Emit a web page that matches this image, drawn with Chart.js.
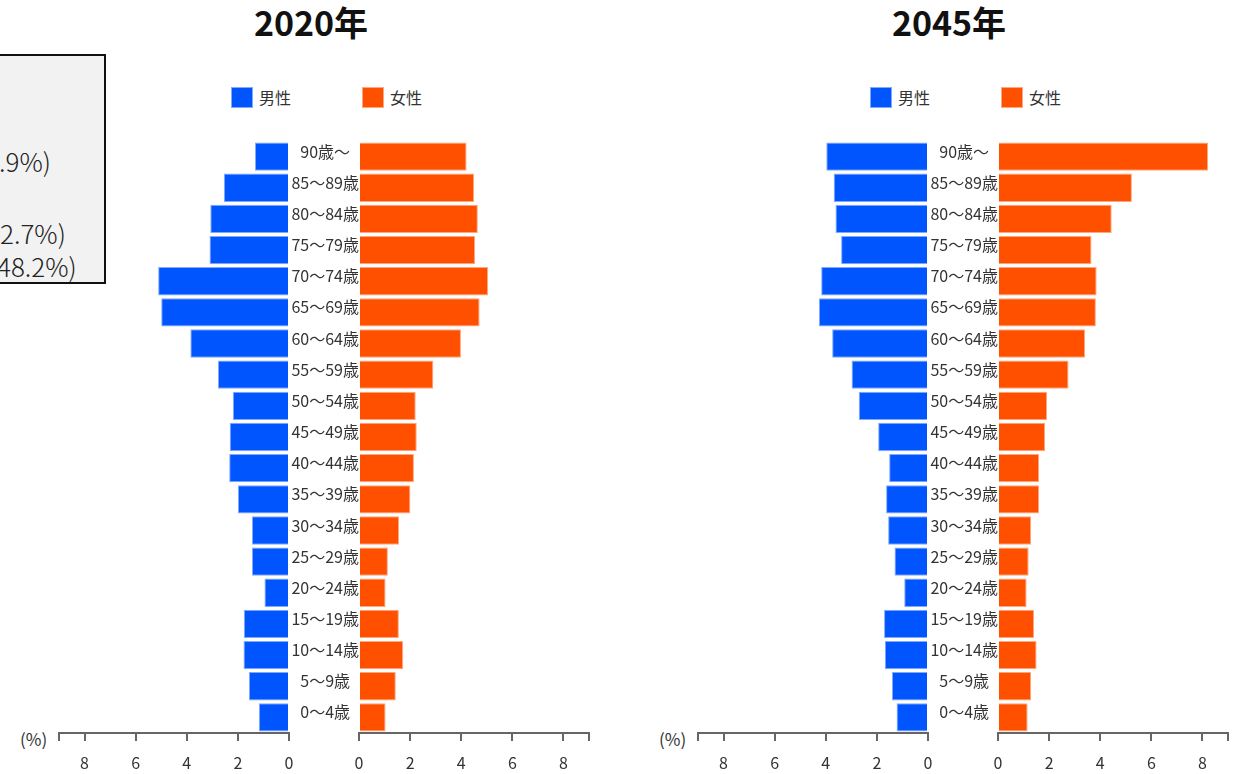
<!DOCTYPE html>
<html lang="ja">
<head>
<meta charset="utf-8">
<title>人口ピラミッド</title>
<script src="https://cdn.jsdelivr.net/npm/chart.js@4.4.1/dist/chart.umd.min.js"></script>
<style>
    body { margin: 0; background: #fff; font-family: 'Noto Sans CJK JP', 'Noto Sans', sans-serif; color: #333; }
    #lienzo { position: relative; width: 1243px; height: 774px; overflow: hidden; }
    canvas { position: absolute; }
    .titulo { position: absolute; top: 5px; width: 300px; text-align: center; font-size: 34px; font-weight: bold; line-height: 1; color: #111; }
    .leyenda { position: absolute; top: 87px; height: 21px; font-size: 16px; line-height: 20px; color: #333; }
    .leyenda span { display: inline-block; width: 22px; height: 21px; vertical-align: top; margin-right: 6px; box-sizing: border-box; }
    .porcentaje { position: absolute; top: 730px; font-size: 17px; line-height: 1; color: #333; }
    #cuadro { position: absolute; left: -20px; top: 54px; width: 126px; height: 230px; box-sizing: border-box; border: 2px solid #111; background: #f2f2f2; }
    .linea { position: absolute; font-size: 26px; font-weight: 300; line-height: 1; white-space: nowrap; color: #222; }
</style>
</head>
<body>
<div id="lienzo">
    <div id="cuadro"></div>
    <div class="linea" style="left:-1px; top:148px;">.9%)</div>
    <div class="linea" style="left:0px; top:220px;">2.7%)</div>
    <div class="linea" style="left:-3px; top:253px;">48.2%)</div>

    <div class="titulo" style="left:161px;">2020年</div>
    <div class="titulo" style="left:799px;">2045年</div>

    <div class="leyenda" style="left:231px;"><span style="background:#0055ff;border:1px solid #80aaff;"></span>男性</div>
    <div class="leyenda" style="left:362px;"><span style="background:#ff5000;border:1px solid #ffa880;"></span>女性</div>
    <div class="leyenda" style="left:870px;"><span style="background:#0055ff;border:1px solid #80aaff;"></span>男性</div>
    <div class="leyenda" style="left:1001px;"><span style="background:#ff5000;border:1px solid #ffa880;"></span>女性</div>

    <div class="porcentaje" style="left:20px;">(%)</div>
    <div class="porcentaje" style="left:659px;">(%)</div>

    <canvas id="hombres2020" width="254" height="645" style="left:47px; top:129px;"></canvas>
    <canvas id="mujeres2020" width="312" height="645" style="left:289px; top:129px;"></canvas>
    <canvas id="hombres2045" width="254" height="645" style="left:686px; top:129px;"></canvas>
    <canvas id="mujeres2045" width="312" height="645" style="left:928px; top:129px;"></canvas>
</div>

<script>
// Grupos de edad (de arriba hacia abajo)
const edades = ['90歳～', '85～89歳', '80～84歳', '75～79歳', '70～74歳', '65～69歳', '60～64歳',
    '55～59歳', '50～54歳', '45～49歳', '40～44歳', '35～39歳', '30～34歳', '25～29歳',
    '20～24歳', '15～19歳', '10～14歳', '5～9歳', '0～4歳'];

// Porcentajes por sexo
const hombres2020 = [1.33, 2.55, 3.08, 3.11, 5.12, 5.0, 3.86, 2.78, 2.2, 2.32, 2.34, 2.0, 1.45, 1.45, 0.96, 1.77, 1.78, 1.57, 1.18];
const mujeres2020 = [4.21, 4.5, 4.65, 4.54, 5.05, 4.72, 3.99, 2.91, 2.22, 2.26, 2.15, 2.01, 1.57, 1.13, 1.04, 1.56, 1.73, 1.44, 1.04];
const hombres2045 = [3.98, 3.69, 3.62, 3.4, 4.18, 4.27, 3.75, 2.99, 2.71, 1.95, 1.52, 1.64, 1.56, 1.31, 0.93, 1.72, 1.69, 1.41, 1.23];
const mujeres2045 = [8.22, 5.24, 4.45, 3.66, 3.86, 3.83, 3.41, 2.76, 1.92, 1.84, 1.61, 1.61, 1.3, 1.2, 1.12, 1.41, 1.51, 1.3, 1.16];

// Eje horizontal
const ticksEje = [0, 2, 4, 6, 8];
const maxEje = 9;

Chart.defaults.font.family = "'Noto Sans CJK JP', 'Noto Sans', sans-serif";
Chart.defaults.color = '#333';

document.addEventListener('DOMContentLoaded', function() {
    crearGrafico('hombres2020', hombres2020, 'hombre');
    crearGrafico('mujeres2020', mujeres2020, 'mujer');
    crearGrafico('hombres2045', hombres2045, 'hombre');
    crearGrafico('mujeres2045', mujeres2045, 'mujer');
});

function crearGrafico(id, valores, lado) {
    const ctx = document.getElementById(id).getContext('2d');
    const esHombre = lado === 'hombre';

    // Eje de edades: solo visible en el lado de mujeres (queda en el centro)
    const ejeEdades = {
        display: !esHombre,
        grid: { display: false, drawTicks: false },
        border: { display: false },
        ticks: {
            autoSkip: false,
            padding: 0,
            labelOffset: -5,
            crossAlign: 'center',
            color: '#333',
            font: { size: 16 }
        }
    };
    if (!esHombre) {
        ejeEdades.afterFit = function(escala) {
            escala.width = 70;
        };
    }

    new Chart(ctx, {
        type: 'bar',
        data: {
            labels: edades,
            datasets: [{
                label: esHombre ? '男性' : '女性',
                data: valores,
                backgroundColor: esHombre ? '#0055ff' : '#ff5000',
                borderColor: esHombre ? '#80aaff' : '#ffa880',
                borderWidth: 1,
                barPercentage: 1,
                categoryPercentage: 0.91
            }]
        },
        options: {
            indexAxis: 'y',
            responsive: false,
            animation: false,
            layout: {
                padding: { top: 12, bottom: 0, left: esHombre ? 12 : 0, right: 12 }
            },
            plugins: {
                legend: { display: false },
                tooltip: { enabled: false }
            },
            scales: {
                x: {
                    type: 'linear',
                    min: 0,
                    max: maxEje,
                    reverse: esHombre,
                    afterBuildTicks: function(escala) {
                        escala.ticks = ticksEje.concat([maxEje]).map(v => ({ value: v }));
                    },
                    afterFit: function(escala) {
                        escala.height = 41;
                    },
                    grid: {
                        drawOnChartArea: false,
                        drawTicks: true,
                        tickLength: 8,
                        color: '#666',
                        lineWidth: 2
                    },
                    border: { display: true, color: '#666', width: 2 },
                    ticks: {
                        autoSkip: false,
                        maxRotation: 0,
                        padding: 12,
                        color: '#333',
                        font: { size: 16 },
                        callback: function(valor) {
                            return valor === maxEje ? '' : valor;
                        }
                    }
                },
                y: ejeEdades
            }
        }
    });
}
</script>
</body>
</html>
